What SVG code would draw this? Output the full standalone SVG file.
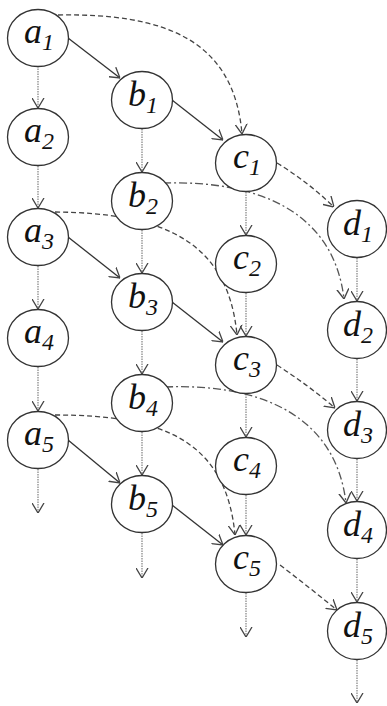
<svg xmlns="http://www.w3.org/2000/svg" width="387" height="706" viewBox="0 0 387 706">
<style>
.n ellipse{fill:#fff;stroke:#333;stroke-width:1.3}
.v{stroke:#8a8a8a;stroke-width:1.3;stroke-dasharray:1.5 1;fill:none}
.s{stroke:#333;stroke-width:1.3;fill:none}
.d{stroke:#444;stroke-width:1.3;stroke-dasharray:5 3;fill:none}
.dd{stroke:#555;stroke-width:1.3;stroke-dasharray:8 3 2 3;fill:none}
</style>
<defs>
<marker id="ah" viewBox="0 0 10 13" refX="10" refY="6.5" markerWidth="10" markerHeight="13" orient="auto" markerUnits="userSpaceOnUse">
<path d="M0,0.5 L10,6.5 L0,12.5" fill="none" stroke="#444" stroke-width="1.3"/>
</marker>
</defs>
<g id="connectors">
<path class="v" d="M38,66 V108" marker-end="url(#ah)"/>
<path class="v" d="M38,166 V208" marker-end="url(#ah)"/>
<path class="v" d="M38,266 V309" marker-end="url(#ah)"/>
<path class="v" d="M38,367 V411" marker-end="url(#ah)"/>
<path class="v" d="M38,469 V513" marker-end="url(#ah)"/>
<path class="v" d="M142,129 V172" marker-end="url(#ah)"/>
<path class="v" d="M142,230 V273" marker-end="url(#ah)"/>
<path class="v" d="M142,331 V374" marker-end="url(#ah)"/>
<path class="v" d="M142,432 V475" marker-end="url(#ah)"/>
<path class="v" d="M142,533 V578" marker-end="url(#ah)"/>
<path class="v" d="M246,192 V235" marker-end="url(#ah)"/>
<path class="v" d="M246,293 V336" marker-end="url(#ah)"/>
<path class="v" d="M246,394 V437" marker-end="url(#ah)"/>
<path class="v" d="M246,495 V535" marker-end="url(#ah)"/>
<path class="v" d="M246,593 V637" marker-end="url(#ah)"/>
<path class="v" d="M357,258 V301" marker-end="url(#ah)"/>
<path class="v" d="M357,359 V401" marker-end="url(#ah)"/>
<path class="v" d="M357,459 V501" marker-end="url(#ah)"/>
<path class="v" d="M357,559 V602" marker-end="url(#ah)"/>
<path class="v" d="M357,660 V703" marker-end="url(#ah)"/>
<path class="s" d="M68,38 L120,78" marker-end="url(#ah)"/>
<path class="s" d="M172,100 L223,140" marker-end="url(#ah)"/>
<path class="s" d="M68,237 L120,278" marker-end="url(#ah)"/>
<path class="s" d="M172,302 L223,342" marker-end="url(#ah)"/>
<path class="s" d="M68,440 L120,483" marker-end="url(#ah)"/>
<path class="s" d="M172,505 L223,545" marker-end="url(#ah)"/>
<path class="d" d="M58,15 C165,13 234,40 242,134" marker-end="url(#ah)"/>
<path class="d" d="M55,212 C162,213 228,240 237,335" marker-end="url(#ah)"/>
<path class="d" d="M55,415 C162,415 226,440 235,535" marker-end="url(#ah)"/>
<path class="d" d="M277,163 Q308,182 334,207" marker-end="url(#ah)"/>
<path class="d" d="M277,365 Q308,385 335,408" marker-end="url(#ah)"/>
<path class="d" d="M280,565 Q310,588 337,610" marker-end="url(#ah)"/>
<path class="dd" d="M163,183 C262,180 334,214 344,299" marker-end="url(#ah)"/>
<path class="dd" d="M165,387 C264,383 336,418 346,503" marker-end="url(#ah)"/>
</g>
<g font-family="Liberation Serif, serif" font-style="italic" font-size="36" fill="#111" text-anchor="middle">
<g id="a1" class="n"><ellipse cx="38" cy="38" rx="30.5" ry="28.5"/><text x="39" y="43">a<tspan font-size="24" dy="7">1</tspan></text></g>
<g id="a2" class="n"><ellipse cx="38" cy="137" rx="30.5" ry="28.5"/><text x="39" y="142">a<tspan font-size="24" dy="7">2</tspan></text></g>
<g id="a3" class="n"><ellipse cx="38" cy="237" rx="30.5" ry="28.5"/><text x="39" y="242">a<tspan font-size="24" dy="7">3</tspan></text></g>
<g id="a4" class="n"><ellipse cx="38" cy="338" rx="30.5" ry="28.5"/><text x="39" y="343">a<tspan font-size="24" dy="7">4</tspan></text></g>
<g id="a5" class="n"><ellipse cx="38" cy="440" rx="30.5" ry="28.5"/><text x="39" y="445">a<tspan font-size="24" dy="7">5</tspan></text></g>
<g id="b1" class="n"><ellipse cx="142" cy="100" rx="30.5" ry="28.5"/><text x="143" y="106">b<tspan font-size="24" dy="7">1</tspan></text></g>
<g id="b2" class="n"><ellipse cx="142" cy="201" rx="30.5" ry="28.5"/><text x="143" y="207">b<tspan font-size="24" dy="7">2</tspan></text></g>
<g id="b3" class="n"><ellipse cx="142" cy="302" rx="30.5" ry="28.5"/><text x="143" y="308">b<tspan font-size="24" dy="7">3</tspan></text></g>
<g id="b4" class="n"><ellipse cx="142" cy="403" rx="30.5" ry="28.5"/><text x="143" y="409">b<tspan font-size="24" dy="7">4</tspan></text></g>
<g id="b5" class="n"><ellipse cx="142" cy="504" rx="30.5" ry="28.5"/><text x="143" y="510">b<tspan font-size="24" dy="7">5</tspan></text></g>
<g id="c1" class="n"><ellipse cx="246" cy="163" rx="30.5" ry="28.5"/><text x="247" y="168">c<tspan font-size="24" dy="7">1</tspan></text></g>
<g id="c2" class="n"><ellipse cx="246" cy="264" rx="30.5" ry="28.5"/><text x="247" y="269">c<tspan font-size="24" dy="7">2</tspan></text></g>
<g id="c3" class="n"><ellipse cx="246" cy="365" rx="30.5" ry="28.5"/><text x="247" y="370">c<tspan font-size="24" dy="7">3</tspan></text></g>
<g id="c4" class="n"><ellipse cx="246" cy="466" rx="30.5" ry="28.5"/><text x="247" y="471">c<tspan font-size="24" dy="7">4</tspan></text></g>
<g id="c5" class="n"><ellipse cx="246" cy="564" rx="30.5" ry="28.5"/><text x="247" y="569">c<tspan font-size="24" dy="7">5</tspan></text></g>
<g id="d1" class="n"><ellipse cx="357" cy="229" rx="29.5" ry="28.5"/><text x="358" y="235">d<tspan font-size="24" dy="7">1</tspan></text></g>
<g id="d2" class="n"><ellipse cx="357" cy="330" rx="29.5" ry="28.5"/><text x="358" y="336">d<tspan font-size="24" dy="7">2</tspan></text></g>
<g id="d3" class="n"><ellipse cx="357" cy="430" rx="29.5" ry="28.5"/><text x="358" y="436">d<tspan font-size="24" dy="7">3</tspan></text></g>
<g id="d4" class="n"><ellipse cx="357" cy="530" rx="29.5" ry="28.5"/><text x="358" y="536">d<tspan font-size="24" dy="7">4</tspan></text></g>
<g id="d5" class="n"><ellipse cx="357" cy="631" rx="29.5" ry="28.5"/><text x="358" y="637">d<tspan font-size="24" dy="7">5</tspan></text></g>
</g>
</svg>
